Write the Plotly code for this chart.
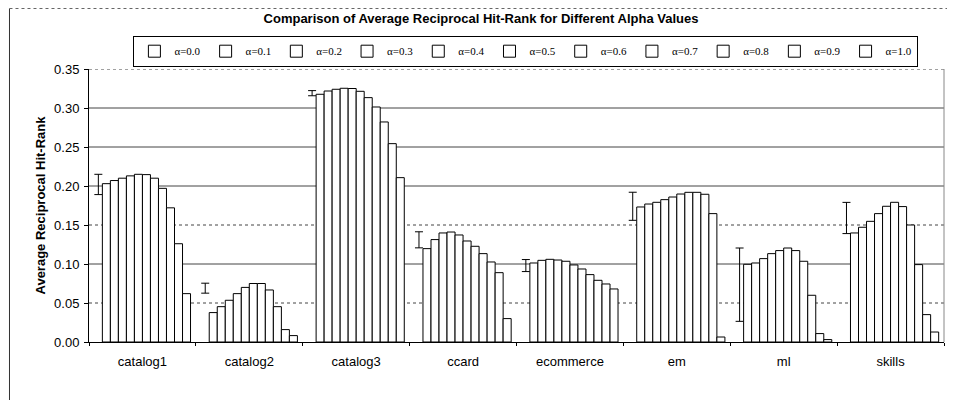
import plotly.graph_objects as go

# ---------------- data ----------------
categories = ["catalog1", "catalog2", "catalog3", "ccard", "ecommerce", "em", "ml", "skills"]
alpha_labels = ["α=0.0", "α=0.1", "α=0.2", "α=0.3", "α=0.4", "α=0.5",
                "α=0.6", "α=0.7", "α=0.8", "α=0.9", "α=1.0"]

# baseline (unlabelled series drawn only as an error bar)
baseline_mean = [0.202, 0.069, 0.319, 0.131, 0.098, 0.174, 0.0735, 0.159]
baseline_err = [0.013, 0.0064, 0.0033, 0.0103, 0.0077, 0.018, 0.047, 0.020]

# average reciprocal hit-rank per dataset, for alpha = 0.0 ... 1.0
catalog1 = [0.203, 0.207, 0.210, 0.213, 0.215, 0.2146, 0.210, 0.197, 0.172, 0.126, 0.062]
catalog2 = [0.0377, 0.0453, 0.0535, 0.062, 0.070, 0.075, 0.075, 0.0667, 0.0453, 0.0159, 0.0082]
catalog3 = [0.3176, 0.3218, 0.324, 0.3253, 0.325, 0.3214, 0.3133, 0.3013, 0.2821, 0.2543, 0.2107]
ccard = [0.1197, 0.1313, 0.1398, 0.141, 0.1372, 0.1295, 0.1227, 0.1133, 0.1026, 0.0889, 0.030]
ecommerce = [0.1013, 0.1047, 0.106, 0.1051, 0.1035, 0.0988, 0.0936, 0.0864, 0.0791, 0.0744, 0.068]
em = [0.1731, 0.1769, 0.1791, 0.1825, 0.1859, 0.1897, 0.1919, 0.1919, 0.1894, 0.1646, 0.0064]
ml = [0.0996, 0.1013, 0.1069, 0.1133, 0.1172, 0.1205, 0.1172, 0.1035, 0.0599, 0.0108, 0.0031]
skills = [0.1398, 0.1471, 0.1547, 0.1646, 0.174, 0.1791, 0.1736, 0.150, 0.0992, 0.0351, 0.0128]

y_ticks = [0.0, 0.05, 0.10, 0.15, 0.20, 0.25, 0.30, 0.35]
dotted_ticks = [0.05, 0.15, 0.35]

rows = [catalog1, catalog2, catalog3, ccard, ecommerce, em, ml, skills]

# ---------------- figure ----------------
fig = go.Figure()

fig.add_trace(go.Bar(
    x=categories, y=baseline_mean, name="baseline", showlegend=False,
    marker=dict(color="rgba(255,255,255,0)", line=dict(width=0)),
    error_y=dict(type="data", array=baseline_err, visible=True,
                 color="black", thickness=1, width=4),
))

for i, lab in enumerate(alpha_labels):
    fig.add_trace(go.Bar(
        x=categories, y=[r[i] for r in rows], name=lab,
        marker=dict(color="white", line=dict(color="black", width=1)),
    ))

shapes = []
for t in y_ticks[1:]:
    shapes.append(dict(type="line", xref="paper", yref="y", x0=0, x1=1, y0=t, y1=t,
                       layer="below",
                       line=dict(color="#444444", width=1,
                                 dash="dot" if t in dotted_ticks else "solid")))
# right border of plot area
shapes.append(dict(type="line", xref="paper", yref="paper", x0=1, x1=1, y0=0, y1=1,
                   line=dict(color="#888888", width=1)))
# outer chart frame (left and top edges)
shapes.append(dict(type="line", xref="paper", yref="paper", x0=-0.093, x1=-0.093,
                   y0=-0.3, y1=1.2216, line=dict(color="#333333", width=1)))
shapes.append(dict(type="line", xref="paper", yref="paper", x0=-0.093, x1=1.1,
                   y0=1.2216, y1=1.2216, line=dict(color="#666666", width=1, dash="dot")))

fig.update_layout(
    width=955, height=400,
    margin=dict(l=81, r=19, t=61, b=66, autoexpand=False),
    paper_bgcolor="white", plot_bgcolor="white",
    barmode="group", bargap=0.1, bargroupgap=0,
    font=dict(family="Arial, Liberation Sans, sans-serif", size=13, color="black"),
    title=dict(text="Comparison of Average Reciprocal Hit-Rank for Different Alpha Values",
               x=0.4953, xanchor="center", y=0.975, yanchor="middle",
               font=dict(family="Arial, Liberation Sans, sans-serif", size=13,
                         weight="bold", color="black")),
    legend=dict(orientation="h", x=0.511, xanchor="center", y=1.122, yanchor="top",
                bordercolor="black", borderwidth=1, bgcolor="white",
                itemwidth=30, tracegroupgap=0,
                font=dict(family="Times New Roman, Liberation Serif, serif", size=11)),
    shapes=shapes,
    showlegend=True,
)

fig.update_xaxes(
    type="category", showline=True, linecolor="black", linewidth=1,
    ticks="outside", tickson="boundaries", ticklen=3, tickcolor="black",
    showgrid=False, ticklabelstandoff=7, automargin=False,
    tickfont=dict(size=13),
)
fig.update_yaxes(
    range=[0, 0.35], tickvals=y_ticks, tickformat=".2f",
    showline=True, linecolor="black", linewidth=1,
    ticks="outside", ticklen=4, tickcolor="black",
    showgrid=False, zeroline=False, ticklabelstandoff=2, automargin=False,
    tickfont=dict(size=13),
    title=dict(text="Average Reciprocal Hit-Rank", standoff=5,
               font=dict(size=13, weight="bold")),
)

fig.write_html("out.html")
